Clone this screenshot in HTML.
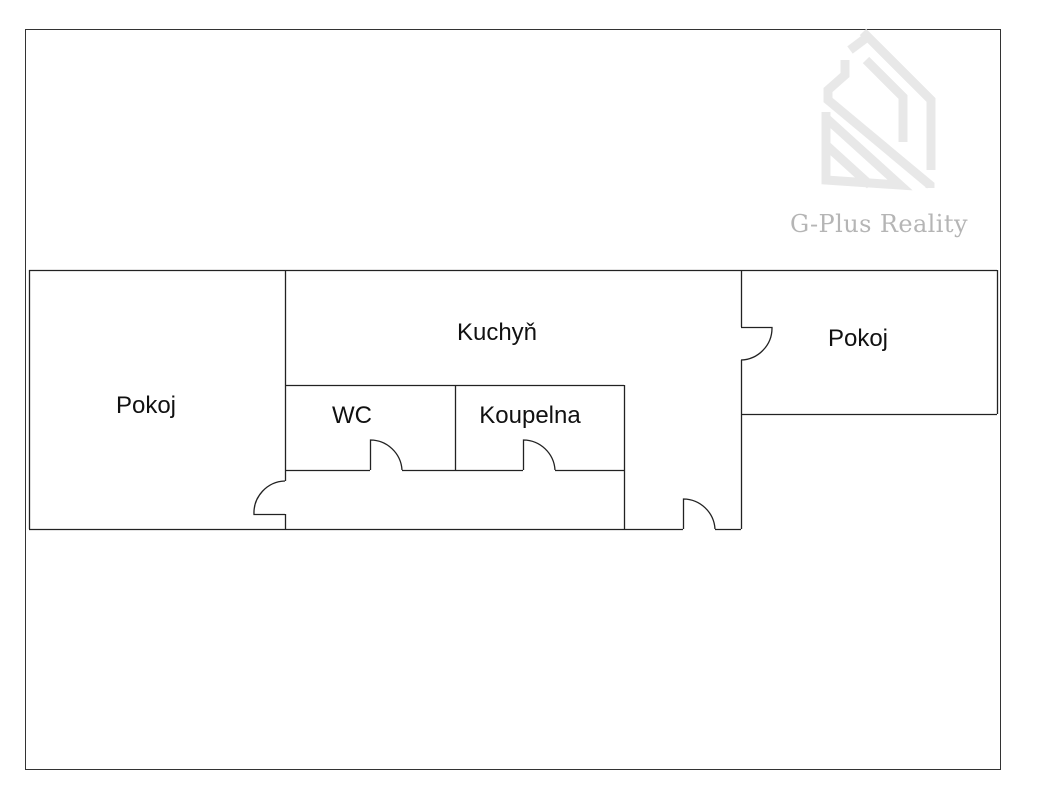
<!DOCTYPE html>
<html><head><style>
body{margin:0;background:#fff;width:1039px;height:800px;overflow:hidden}
</style></head><body>
<svg width="1039" height="800" xmlns="http://www.w3.org/2000/svg" font-family="Liberation Sans, sans-serif">
<rect x="25.5" y="29.5" width="975" height="740" fill="none" stroke="#333" stroke-width="1"/>
<g fill="none" stroke="#e8e8e8" stroke-width="9" stroke-linejoin="miter">
<polyline points="863,32 931,100 931,170"/>
<polyline points="850,50 866,38"/>
<polyline points="845,60 845,75 828,90 828,100 930,185 930,188"/>
<polyline points="866,60 903,97 903,142"/>
<polyline points="826,112 826,180 900,185 826,118"/>
<polyline points="826,145 870,185"/>
</g>
<text x="879" y="232" font-family="DejaVu Serif, serif" font-weight="normal" font-size="24" fill="#b5b5b5" text-anchor="middle" letter-spacing="0.5" textLength="178">G-Plus Reality</text>
<g fill="none" stroke="#222" stroke-width="1.3">
<line x1="29" y1="270.5" x2="997" y2="270.5"/>
<line x1="29.5" y1="270" x2="29.5" y2="529"/>
<line x1="29" y1="529.5" x2="624" y2="529.5"/>
<line x1="624" y1="529.5" x2="683" y2="529.5"/>
<line x1="715" y1="529.5" x2="741" y2="529.5"/>
<path d="M683.5 529 V499 A32 32 0 0 1 715 529"/>
<line x1="741.5" y1="270" x2="741.5" y2="327"/>
<line x1="741.5" y1="360" x2="741.5" y2="529"/>
<path d="M741 327.5 H772 A32 32 0 0 1 741 360"/>
<line x1="741" y1="414.5" x2="997" y2="414.5"/>
<line x1="997.5" y1="270" x2="997.5" y2="414"/>
<line x1="285.5" y1="270" x2="285.5" y2="481"/>
<line x1="285.5" y1="514" x2="285.5" y2="529"/>
<path d="M285 514.5 H254 A32 32 0 0 1 285 481"/>
<line x1="285" y1="385.5" x2="624" y2="385.5"/>
<line x1="624.5" y1="385" x2="624.5" y2="529"/>
<line x1="455.5" y1="385" x2="455.5" y2="470"/>
<line x1="285" y1="470.5" x2="370" y2="470.5"/>
<line x1="402" y1="470.5" x2="523" y2="470.5"/>
<line x1="555" y1="470.5" x2="624" y2="470.5"/>
<path d="M370.5 470 V440 A32 32 0 0 1 402 470"/>
<path d="M523.5 470 V440 A32 32 0 0 1 555 470"/>
</g>
<g font-size="24" fill="#111" text-anchor="middle">
<text x="146" y="413">Pokoj</text>
<text x="497" y="340">Kuchyň</text>
<text x="858" y="346">Pokoj</text>
<text x="352" y="423">WC</text>
<text x="530" y="423">Koupelna</text>
</g>
</svg>
</body></html>
